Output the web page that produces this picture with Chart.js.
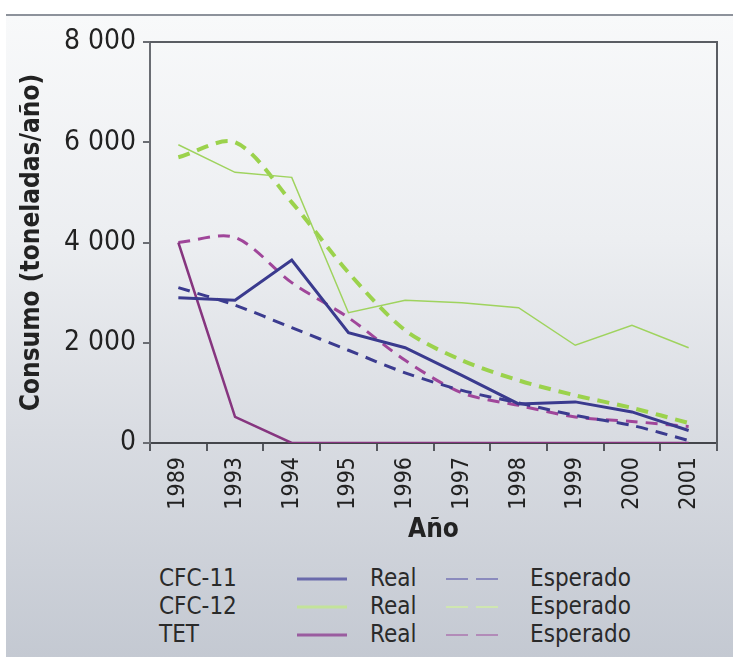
<!DOCTYPE html>
<html>
<head>
<meta charset="utf-8">
<script src="https://cdn.jsdelivr.net/npm/chart.js@4"></script>
<style>
    body { margin: 0; background: #fff; }
    #page { position: relative; width: 733px; height: 657px; overflow: hidden; background: #fff; }
    #panel {
        position: absolute; left: 6px; top: 14px; right: 0; bottom: 0;
        border-top: 2px solid #8d929b;
        background: linear-gradient(to bottom, #f8f9fa 0%, #eceef1 35%, #d9dce2 65%, #c4c9d2 100%);
    }
    #chart { position: absolute; left: 0; top: 0; }
    .legend-row { position: absolute; left: 0; height: 28px; width: 733px;
        font-family: 'Liberation Sans Narrow', 'DejaVu Sans Condensed', sans-serif; font-stretch: condensed;
        font-size: 24px; color: #2a2a2a; }
    .legend-row span, .legend-row svg { position: absolute; top: 0; line-height: 28px; }
</style>
</head>
<body>
<div id="page">
    <div id="panel"></div>
    <canvas id="chart" width="733" height="560"></canvas>
    <div id="legend"></div>
</div>
<script>
const years = ['1989', '1993', '1994', '1995', '1996', '1997', '1998', '1999', '2000', '2001'];
const yTicks = [0, 2000, 4000, 6000, 8000];

const cfc11Real     = [2900, 2850, 3650, 2200, 1900, 1350, 780, 820, 620, 250];
const cfc11Esperado = [3100, 2750, 2300, 1850, 1400, 1050, 800, 550, 350, 50];
const cfc12Real     = [5950, 5400, 5300, 2600, 2850, 2800, 2700, 1950, 2350, 1900];
const cfc12Esperado = [5700, 6000, 4800, 3400, 2250, 1650, 1250, 950, 700, 400];
const tetReal       = [4000, 520, 0, 0, 0, 0, 0, 0, 0, 0];
const tetEsperado   = [4000, 4100, 3200, 2500, 1650, 1000, 750, 520, 430, 330];

const legendItems = [
    { name: 'CFC-11', real: '#6a6aab', esperado: '#8a8abd' },
    { name: 'CFC-12', real: '#c3e39a', esperado: '#cfe6b0' },
    { name: 'TET',    real: '#9a5c9f', esperado: '#b28bb8' }
];

const FONT = "'Liberation Sans Narrow', 'DejaVu Sans Condensed', sans-serif";

// top + right frame of the plot box
const framePlugin = {
    id: 'frame',
    afterDraw(chart) {
        const { ctx, chartArea } = chart;
        ctx.save();
        ctx.strokeStyle = '#5a5d63';
        ctx.lineWidth = 2;
        ctx.beginPath();
        ctx.moveTo(chartArea.left, chartArea.top);
        ctx.lineTo(chartArea.right, chartArea.top);
        ctx.lineTo(chartArea.right, chartArea.bottom + 8);
        ctx.stroke();
        ctx.restore();
    }
};

function formatThousands(v) {
    return String(v).replace(/\B(?=(\d{3})+(?!\d))/g, ' ');
}

function line(label, data, color, width, dashed) {
    return {
        label: label,
        data: data,
        borderColor: color,
        borderWidth: width,
        borderDash: dashed ? [12, 8] : [],
        tension: dashed ? 0.3 : 0,
        pointRadius: 0,
        fill: false
    };
}

new Chart(document.getElementById('chart'), {
    type: 'line',
    data: {
        labels: years,
        datasets: [
            line('CFC-11 Real', cfc11Real, '#3a3a8e', 3, false),
            line('CFC-11 Esperado', cfc11Esperado, '#3b3b8f', 3, true),
            line('TET Real', tetReal, '#86357f', 2.5, false),
            line('TET Esperado', tetEsperado, '#a0469a', 3, true),
            line('CFC-12 Real', cfc12Real, '#9fd35e', 1.5, false),
            line('CFC-12 Esperado', cfc12Esperado, '#9bd24c', 4, true)
        ]
    },
    options: {
        responsive: false,
        animation: false,
        layout: { padding: { top: 42, right: 16, left: 0, bottom: 0 } },
        plugins: {
            legend: { display: false },
            tooltip: { enabled: false }
        },
        scales: {
            x: {
                offset: true,
                afterFit: scale => { scale.height = 560 - 443; },
                grid: { drawOnChartArea: false, drawTicks: true, tickLength: 8, offset: true, color: '#55585e', lineWidth: 2 },
                border: { display: true, color: '#44464b', width: 2 },
                ticks: { minRotation: 90, maxRotation: 90, padding: 6, color: '#222', font: { family: FONT, size: 23 } },
                title: { display: true, text: 'Año', color: '#222', font: { family: FONT, size: 26, weight: 'bold' }, padding: { top: 0, bottom: 14 } }
            },
            y: {
                min: 0,
                max: 8000,
                afterFit: scale => { scale.width = 150; },
                afterBuildTicks: scale => { scale.ticks = yTicks.map(v => ({ value: v })); },
                grid: { drawOnChartArea: false, drawTicks: true, tickLength: 7, color: '#6a6d73', lineWidth: 2 },
                border: { display: true, color: '#6a6d73', width: 2 },
                ticks: { padding: 7, color: '#222', font: { family: FONT, size: 28 }, callback: v => formatThousands(v) },
                title: { display: true, text: 'Consumo (toneladas/año)', color: '#222', font: { family: FONT, size: 26, weight: 'bold' }, padding: { top: 17, bottom: 0 } }
            }
        }
    },
    plugins: [framePlugin]
});

// legend rows
const legendEl = document.getElementById('legend');
legendItems.forEach((item, i) => {
    const row = document.createElement('div');
    row.className = 'legend-row';
    row.style.top = (564 + i * 28) + 'px';
    row.innerHTML = `
        <span style="left:159px">${item.name}</span>
        <svg style="left:297px" width="50" height="28"><line x1="0" y1="15" x2="50" y2="15" stroke="${item.real}" stroke-width="3"/></svg>
        <span style="left:370px">Real</span>
        <svg style="left:446px" width="56" height="28"><line x1="0" y1="15" x2="56" y2="15" stroke="${item.esperado}" stroke-width="2" stroke-dasharray="22 8"/></svg>
        <span style="left:530px">Esperado</span>
    `;
    legendEl.appendChild(row);
});
</script>
</body>
</html>
